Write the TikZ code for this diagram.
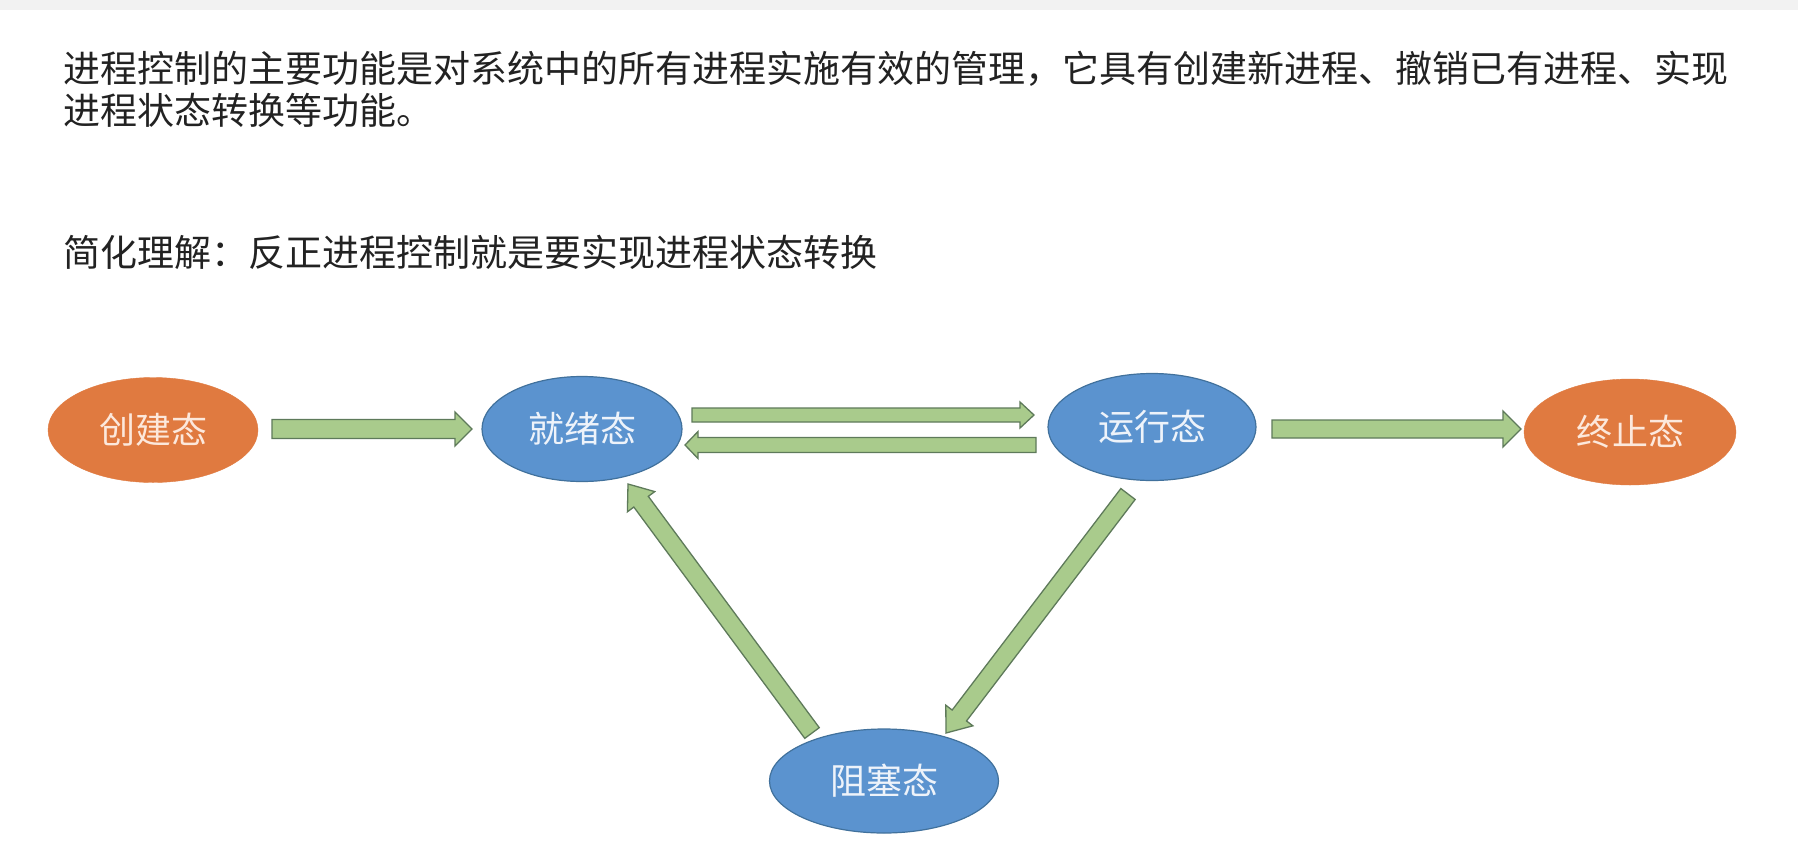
\documentclass[tikz,border=0pt]{standalone}
\usepackage{fontspec}
\setmainfont{Noto Sans CJK SC}
\usetikzlibrary{shapes.geometric,calc}
\definecolor{orangeF}{HTML}{E07A40}
\definecolor{oText}{HTML}{FCE8DC}
\definecolor{blueF}{HTML}{5B93CF}
\definecolor{blueD}{HTML}{41719C}
\definecolor{bText}{HTML}{EEF3FA}
\definecolor{greenF}{HTML}{A9CB8C}
\definecolor{greenD}{HTML}{5E7A5A}
\definecolor{txt}{HTML}{222222}
\definecolor{topbar}{HTML}{F2F2F2}
\tikzset{
  state/.style={ellipse, inner sep=0pt, font=\fontsize{36}{36}\selectfont},
  ostate/.style={state, fill=orangeF, draw=orangeF, text=oText},
  bstate/.style={state, fill=blueF, draw=blueD, line width=1.2pt, text=bText},
  barrow/.style={fill=greenF, draw=greenD, line width=1.3pt, line join=miter},
  body/.style={anchor=base west, inner sep=0pt, text=txt, font=\fontsize{37}{37}\selectfont}
}
% #1 start, #2 end, #3 shaft half width, #4 head half width, #5 head length
\newcommand\blockarrow[5]{%
  \draw[barrow] let \p1=(#1), \p2=(#2),
      \n1={atan2(\y2-\y1,\x2-\x1)},
      \n2={veclen(\x2-\x1,\y2-\y1)-#5} in
    ($(\p1)+(\n1+90:#3pt)$)
    -- ($(\p1)+(\n1:\n2)+(\n1+90:#3pt)$)
    -- ($(\p1)+(\n1:\n2)+(\n1+90:#4pt)$)
    -- (\p2)
    -- ($(\p1)+(\n1:\n2)+(\n1-90:#4pt)$)
    -- ($(\p1)+(\n1:\n2)+(\n1-90:#3pt)$)
    -- ($(\p1)+(\n1-90:#3pt)$)
    -- cycle;
}
\begin{document}
\begin{tikzpicture}[x=1pt,y=-1pt]
\fill[white] (0,0) rectangle (1798,852);
\useasboundingbox (0,0) rectangle (1798,852);
\fill[topbar] (0,0) rectangle (1798,10);

\node[body] (t1) at (63,82) {进程控制的主要功能是对系统中的所有进程实施有效的管理，它具有创建新进程、撤销已有进程、实现};
\node[body] (t2) at (63,124) {进程状态转换等功能。};
\node[body] (t3) at (63,266) {简化理解：反正进程控制就是要实现进程状态转换};

\node[ostate, minimum width=210pt, minimum height=105pt] (cj) at (153,430) {创建态};
\node[bstate, minimum width=200pt, minimum height=105pt] (jx) at (582,429) {就绪态};
\node[bstate, minimum width=208pt, minimum height=107pt] (yx) at (1152,427) {运行态};
\node[ostate, minimum width=212pt, minimum height=106pt] (zz) at (1630,432) {终止态};
\node[bstate, minimum width=229pt, minimum height=104pt] (zs) at (884,781) {阻塞态};

\coordinate (a1s) at (272,429);  \coordinate (a1e) at (472,429);
\coordinate (a2s) at (692,415);  \coordinate (a2e) at (1034,415);
\coordinate (a3s) at (1036,445); \coordinate (a3e) at (685,445);
\coordinate (a4s) at (1272,429); \coordinate (a4e) at (1521,429);
\coordinate (a5s) at (1128,494); \coordinate (a5e) at (946,733);
\coordinate (a6s) at (812,733);  \coordinate (a6e) at (628,484);

\blockarrow{a1s}{a1e}{9.5}{17}{17}
\blockarrow{a2s}{a2e}{7}{13}{14}
\blockarrow{a3s}{a3e}{7.5}{13.5}{13}
\blockarrow{a4s}{a4e}{9}{18}{18}
\blockarrow{a5s}{a5e}{9}{17}{22}
\blockarrow{a6s}{a6e}{9}{17}{22}
\end{tikzpicture}
\end{document}
